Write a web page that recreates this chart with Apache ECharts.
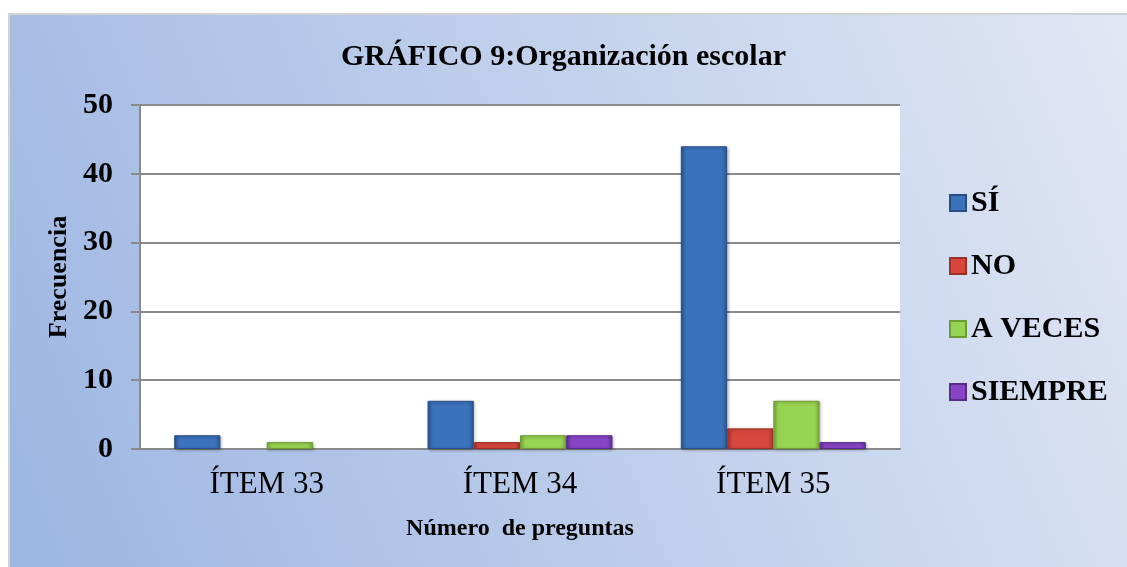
<!DOCTYPE html>
<html lang="es">
  <head>
    <meta charset="UTF-8" />
    <title>Organización escolar</title>
    <script src="https://cdn.jsdelivr.net/npm/echarts@6.0.0/dist/echarts.min.js"></script>
    <style>
      html, body { margin: 0; padding: 0; background: #fff; }
    </style>
  </head>
  <body>
    <div id="chart" style="width: 1127px; height: 567px"></div>

    <script>
      // datos
      const categories = ["ÍTEM 33", "ÍTEM 34", "ÍTEM 35"];
      const seriesNames = ["SÍ", "NO", "A VECES", "SIEMPRE"];
      const si = [2, 7, 44];
      const no = [0, 1, 3];
      const aVeces = [1, 2, 7];
      const siempre = [0, 2, 1];
      const yMin = 0, yMax = 50, yStep = 10;

      const font = "Liberation Serif";

      // relleno con bisel simple: bordes oscuros, centro claro
      const bevel = (edge, mid) => ({
        type: "linear", x: 0, y: 0, x2: 1, y2: 0,
        colorStops: [
          { offset: 0, color: edge },
          { offset: 0.12, color: mid },
          { offset: 0.88, color: mid },
          { offset: 1, color: edge },
        ],
      });

      const styles = [
        { fill: bevel("#2d5a98", "#3b72bc"), border: "#284f85" },
        { fill: bevel("#b3342e", "#d8473e"), border: "#9e2f29" },
        { fill: bevel("#7cb03d", "#98d453"), border: "#6d9c34" },
        { fill: bevel("#62309c", "#8745c6"), border: "#572b8a" },
      ];

      const values = [si, no, aVeces, siempre];

      // una barra de valor 0 no debe dejar una raya
      const toData = (arr) =>
        arr.map((v) =>
          v === 0 ? { value: v, itemStyle: { borderWidth: 0, shadowBlur: 0, opacity: 0 } } : v
        );

      const chart = echarts.init(document.getElementById("chart"));
      chart.setOption({
        animation: false,
        graphic: [
          {
            type: "rect",
            left: 8,
            top: 13,
            z: -10,
            shape: { width: 1130, height: 560 },
            style: {
              fill: {
                type: "linear", x: 0, y: 0.9, x2: 1, y2: 0.1,
                colorStops: [
                  { offset: 0, color: "#9db6e2" },
                  { offset: 1, color: "#e0e7f4" },
                ],
              },
              stroke: "#d2d2d2",
              lineWidth: 2,
            },
          },
        ],
        title: {
          text: "GRÁFICO 9:Organización escolar",
          left: "center",
          top: 37,
          textStyle: { fontFamily: font, fontSize: 30, fontWeight: "bold", color: "#000" },
        },
        legend: {
          orient: "vertical",
          left: 944,
          top: 183,
          itemWidth: 16,
          itemHeight: 16,
          itemGap: 33,
          icon: "rect",
          data: seriesNames,
          textStyle: { fontFamily: font, fontSize: 30, fontWeight: "bold", color: "#000" },
        },
        grid: {
          left: 140,
          top: 105,
          width: 760,
          height: 344,
          show: true,
          backgroundColor: "#fff",
          borderWidth: 0,
        },
        xAxis: {
          type: "category",
          data: categories,
          name: "Número  de preguntas",
          nameLocation: "middle",
          nameGap: 68,
          nameTextStyle: { fontFamily: font, fontSize: 24, fontWeight: "bold", color: "#000" },
          axisLine: { lineStyle: { color: "#8a8a8a", width: 2 } },
          axisTick: { show: false },
          axisLabel: { fontFamily: font, fontSize: 31, color: "#000", margin: 20 },
        },
        yAxis: {
          type: "value",
          min: yMin,
          max: yMax,
          interval: yStep,
          name: "Frecuencia",
          nameLocation: "middle",
          nameGap: 66,
          nameTextStyle: { fontFamily: font, fontSize: 26, fontWeight: "bold", color: "#000" },
          axisLine: { show: true, lineStyle: { color: "#8a8a8a", width: 2 } },
          axisTick: { show: true, length: 9, lineStyle: { color: "#8a8a8a", width: 2 } },
          splitLine: { lineStyle: { color: "#8a8a8a", width: 2 } },
          axisLabel: { fontFamily: font, fontSize: 30, fontWeight: "bold", color: "#000", margin: 27 },
        },
        series: seriesNames.map((name, i) => ({
          name,
          type: "bar",
          data: toData(values[i]),
          barGap: "0%",
          barCategoryGap: "27%",
          itemStyle: {
            color: styles[i].fill,
            borderColor: styles[i].border,
            borderWidth: 1,
            shadowColor: "rgba(0,0,0,0.3)",
            shadowBlur: 3,
            shadowOffsetX: 1,
            shadowOffsetY: 1,
          },
        })),
      });
    </script>
  </body>
</html>
